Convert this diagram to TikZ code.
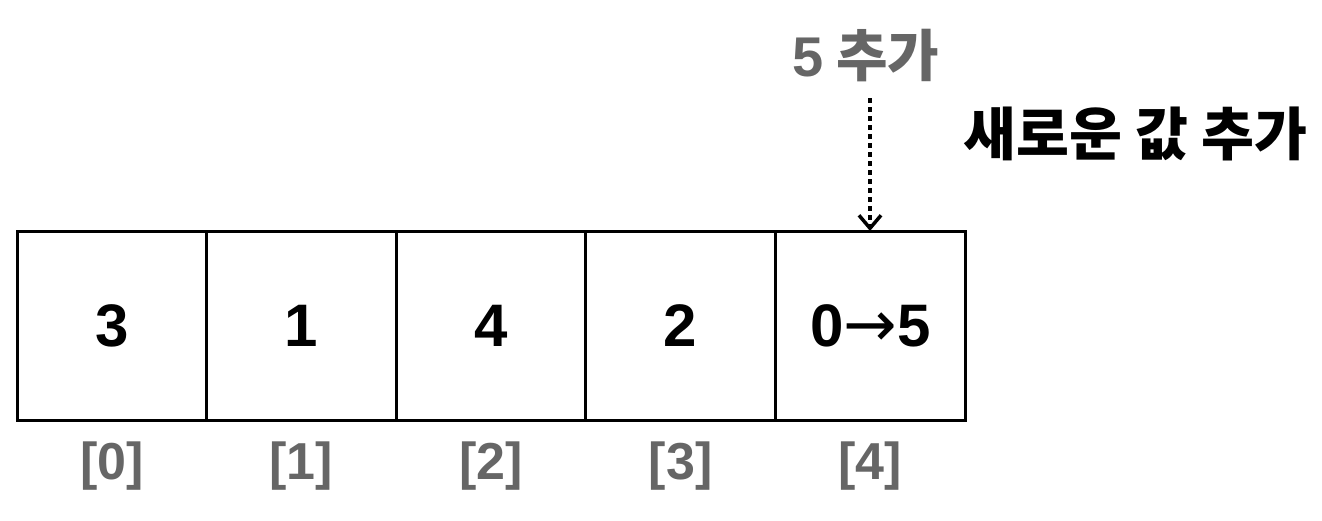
\documentclass[tikz,border=0pt]{standalone}
\usepackage{fontspec}
\setmainfont{Liberation Sans}
\newfontfamily\kr{Noto Sans CJK KR}
\newfontfamily\arr{DejaVu Sans}
\usetikzlibrary{arrows.meta}
\definecolor{idxgray}{HTML}{666666}
\begin{document}
\begin{tikzpicture}[x=1pt,y=-1pt,
  cell/.style={draw=black,line width=3pt,minimum width=189.6pt,minimum height=189pt,inner sep=0pt,outer sep=0pt,font=\fontsize{60}{60}\selectfont\bfseries},
  idx/.style={text=idxgray,font=\fontsize{52}{52}\selectfont\bfseries},
  note/.style={font=\kr\fontsize{56}{56}\selectfont\bfseries}]
\useasboundingbox (0,0) rectangle (1322,520);
\foreach \v [count=\i from 0] in {3,1,4,2,{0{\arr\mdseries\fontsize{64}{60}\selectfont→}5}}{
  \node[cell] (c\i) at ({17+189.6*(\i+0.5)},325.5) {\v};
  \node[idx] (i\i) at ({17+189.6*(\i+0.5)},466) {[\i]};
}
\node[note,text=idxgray] (add) at (866,56) {{\rmfamily\bfseries 5} 추가};
\node[note,font=\kr\fontsize{57.5}{57.5}\selectfont\bfseries,anchor=west] (new) at (960,134) {새로운 값 추가};
\draw[line width=4.5pt,dash pattern=on 4.5pt off 4.5pt,-{Straight Barb[length=13pt,width=22pt,line width=3.5pt]}] (870,98) -- (c4.north -| 870,0);
\end{tikzpicture}
\end{document}
